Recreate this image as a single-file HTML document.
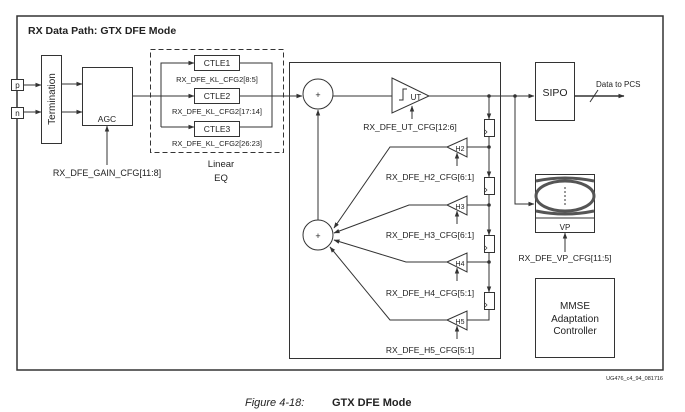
<!DOCTYPE html>
<html><head><style>
html,body{margin:0;padding:0;background:#fff;width:685px;height:412px;overflow:hidden}
svg{display:block;font-family:"Liberation Sans",Arial,sans-serif}
</style></head><body>
<svg width="685" height="412" viewBox="0 0 685 412">
<defs>
<marker id="a" markerWidth="6" markerHeight="6" refX="5.5" refY="3" orient="auto" markerUnits="userSpaceOnUse"><path d="M0,0.8 L6,3 L0,5.2z" fill="#333"/></marker>
</defs>
<g stroke="#333" fill="none" stroke-width="1">
<rect x="17" y="16" width="646" height="354" stroke-width="1.5"/>
<rect x="11.5" y="79.5" width="12" height="11" fill="#fff"/>
<rect x="11.5" y="107.5" width="12" height="11" fill="#fff"/>
<line x1="24" y1="85" x2="41" y2="85" marker-end="url(#a)"/>
<line x1="24" y1="112" x2="41" y2="112" marker-end="url(#a)"/>
<rect x="41.5" y="55.5" width="20" height="88"/>
<line x1="62" y1="84" x2="82" y2="84" marker-end="url(#a)"/>
<line x1="62" y1="112" x2="82" y2="112" marker-end="url(#a)"/>
<rect x="82.5" y="67.5" width="50" height="58"/>
<line x1="107" y1="165" x2="107" y2="126" marker-end="url(#a)"/>
<rect x="150.5" y="49.5" width="133" height="103" stroke-dasharray="5,3"/>
<rect x="194.5" y="55.5" width="45" height="15"/>
<rect x="194.5" y="88.5" width="45" height="15"/>
<rect x="194.5" y="121.5" width="45" height="15"/>
<polyline points="161,127 161,63 194,63" marker-end="url(#a)"/>
<line x1="161" y1="127" x2="194" y2="127" marker-end="url(#a)"/>
<polyline points="240,63 272,63 272,127 240,127"/>
<line x1="133" y1="96" x2="194" y2="96" marker-end="url(#a)"/>
<line x1="240" y1="96" x2="302" y2="96" marker-end="url(#a)"/>
<rect x="289.5" y="62.5" width="211" height="296"/>
<circle cx="318" cy="94" r="15"/>
<circle cx="318" cy="235" r="15"/>
<line x1="318" y1="220" x2="318" y2="110" marker-end="url(#a)"/>
<line x1="333" y1="96" x2="392" y2="96"/>
<polygon points="392,78 429,96 392,113"/>
<polyline points="399,100 403,100 403,89 407,89" />
<line x1="412" y1="119" x2="412" y2="106" marker-end="url(#a)"/>
<line x1="429" y1="96" x2="534" y2="96" marker-end="url(#a)"/>
<line x1="489" y1="96" x2="489" y2="119" marker-end="url(#a)"/>
<line x1="489" y1="136" x2="489" y2="177" marker-end="url(#a)"/>
<line x1="489" y1="194" x2="489" y2="235" marker-end="url(#a)"/>
<line x1="489" y1="252" x2="489" y2="292" marker-end="url(#a)"/>
<polyline points="489,310 489,320 467,320"/>
<rect x="484.5" y="119.5" width="10" height="17"/>
<rect x="484.5" y="177.5" width="10" height="17"/>
<rect x="484.5" y="235.5" width="10" height="17"/>
<rect x="484.5" y="292.5" width="10" height="17"/>
<polyline points="485,130 487,132 485,134" stroke-width="0.7"/>
<polyline points="485,188 487,190 485,192" stroke-width="0.7"/>
<polyline points="485,246 487,248 485,250" stroke-width="0.7"/>
<polyline points="485,303 487,305 485,307" stroke-width="0.7"/>
<line x1="467" y1="147" x2="489" y2="147"/>
<line x1="467" y1="205" x2="489" y2="205"/>
<line x1="467" y1="262" x2="489" y2="262"/>
<polygon points="447,147 467,138 467,157"/>
<polygon points="447,205 467,196 467,215"/>
<polygon points="447,262 467,253 467,272"/>
<polygon points="447,320 467,311 467,330"/>
<line x1="457" y1="166" x2="457" y2="153" marker-end="url(#a)"/>
<line x1="457" y1="224" x2="457" y2="211" marker-end="url(#a)"/>
<line x1="457" y1="281" x2="457" y2="268" marker-end="url(#a)"/>
<line x1="457" y1="339" x2="457" y2="326" marker-end="url(#a)"/>
<polyline points="447,147 390,147 334,228" marker-end="url(#a)"/>
<polyline points="447,205 409,205 334,233" marker-end="url(#a)"/>
<polyline points="447,262 406,262 334,240" marker-end="url(#a)"/>
<polyline points="447,320 390,320 330,247" marker-end="url(#a)"/>
<polyline points="515,96 515,204 534,204" marker-end="url(#a)"/>
<rect x="535.5" y="62.5" width="39" height="58"/>
<line x1="575" y1="96" x2="624" y2="96" stroke-width="1.5" marker-end="url(#a)"/>
<line x1="590" y1="102" x2="598" y2="90"/>
<rect x="535.5" y="174.5" width="59" height="58"/>
<line x1="535" y1="218" x2="595" y2="218"/>
<ellipse cx="565" cy="196" rx="29" ry="15" stroke-width="3" stroke="#555"/>
<path d="M536,181 Q565,175 594,181 M536,211 Q565,217 594,211" stroke-width="3" stroke="#555"/>
<line x1="565" y1="187" x2="565" y2="205" stroke-dasharray="2,2"/>
<line x1="565" y1="252" x2="565" y2="233" marker-end="url(#a)"/>
<rect x="535.5" y="278.5" width="79" height="79"/>
</g>
<g fill="#333" stroke="none">
<circle cx="489" cy="96" r="1.8"/><circle cx="515" cy="96" r="1.8"/>
<circle cx="489" cy="147" r="1.8"/><circle cx="489" cy="205" r="1.8"/><circle cx="489" cy="262" r="1.8"/>
</g>
<g fill="#222" font-size="8px">
<text x="28" y="34" font-weight="bold" font-size="10.5px">RX Data Path: GTX DFE Mode</text>
<text x="17.5" y="88" text-anchor="middle" font-size="8px">p</text>
<text x="17.5" y="116" text-anchor="middle" font-size="8px">n</text>
<text transform="translate(55,99) rotate(-90)" text-anchor="middle" font-size="10px">Termination</text>
<text x="107" y="122" text-anchor="middle" font-size="8.5px">AGC</text>
<text x="107" y="176" text-anchor="middle" font-size="9px">RX_DFE_GAIN_CFG[11:8]</text>
<text x="217" y="66" text-anchor="middle" font-size="8.5px">CTLE1</text>
<text x="217" y="99" text-anchor="middle" font-size="8.5px">CTLE2</text>
<text x="217" y="132" text-anchor="middle" font-size="8.5px">CTLE3</text>
<text x="217" y="82" text-anchor="middle" font-size="7.5px">RX_DFE_KL_CFG2[8:5]</text>
<text x="217" y="114" text-anchor="middle" font-size="7.5px">RX_DFE_KL_CFG2[17:14]</text>
<text x="217" y="146" text-anchor="middle" font-size="7.5px">RX_DFE_KL_CFG2[26:23]</text>
<text x="221" y="167" text-anchor="middle" font-size="9.5px">Linear</text>
<text x="221" y="181" text-anchor="middle" font-size="9.5px">EQ</text>
<text x="318" y="98" text-anchor="middle" font-size="9px">+</text>
<text x="318" y="239" text-anchor="middle" font-size="9px">+</text>
<text x="416" y="100" text-anchor="middle" font-size="8px">UT</text>
<text x="410" y="130" text-anchor="middle" font-size="8.5px">RX_DFE_UT_CFG[12:6]</text>
<text x="460" y="151" text-anchor="middle" font-size="7px">H2</text>
<text x="460" y="209" text-anchor="middle" font-size="7px">H3</text>
<text x="460" y="266" text-anchor="middle" font-size="7px">H4</text>
<text x="460" y="324" text-anchor="middle" font-size="7px">H5</text>
<text x="430" y="180" text-anchor="middle" font-size="8.5px">RX_DFE_H2_CFG[6:1]</text>
<text x="430" y="238" text-anchor="middle" font-size="8.5px">RX_DFE_H3_CFG[6:1]</text>
<text x="430" y="296" text-anchor="middle" font-size="8.5px">RX_DFE_H4_CFG[5:1]</text>
<text x="430" y="353" text-anchor="middle" font-size="8.5px">RX_DFE_H5_CFG[5:1]</text>
<text x="555" y="96" text-anchor="middle" font-size="10.5px">SIPO</text>
<text x="596" y="87" font-size="8px">Data to PCS</text>
<text x="565" y="230" text-anchor="middle" font-size="8px">VP</text>
<text x="565" y="261" text-anchor="middle" font-size="8.5px">RX_DFE_VP_CFG[11:5]</text>
<text x="575" y="309" text-anchor="middle" font-size="10px">MMSE</text>
<text x="575" y="322" text-anchor="middle" font-size="10px">Adaptation</text>
<text x="575" y="334" text-anchor="middle" font-size="10px">Controller</text>
<text x="663" y="380" text-anchor="end" font-size="5.5px">UG476_c4_94_081716</text>
<text x="245" y="406" font-size="11px" font-style="italic">Figure 4-18:</text>
<text x="332" y="406" font-size="11px" font-weight="bold">GTX DFE Mode</text>
</g>
</svg>
</body></html>
